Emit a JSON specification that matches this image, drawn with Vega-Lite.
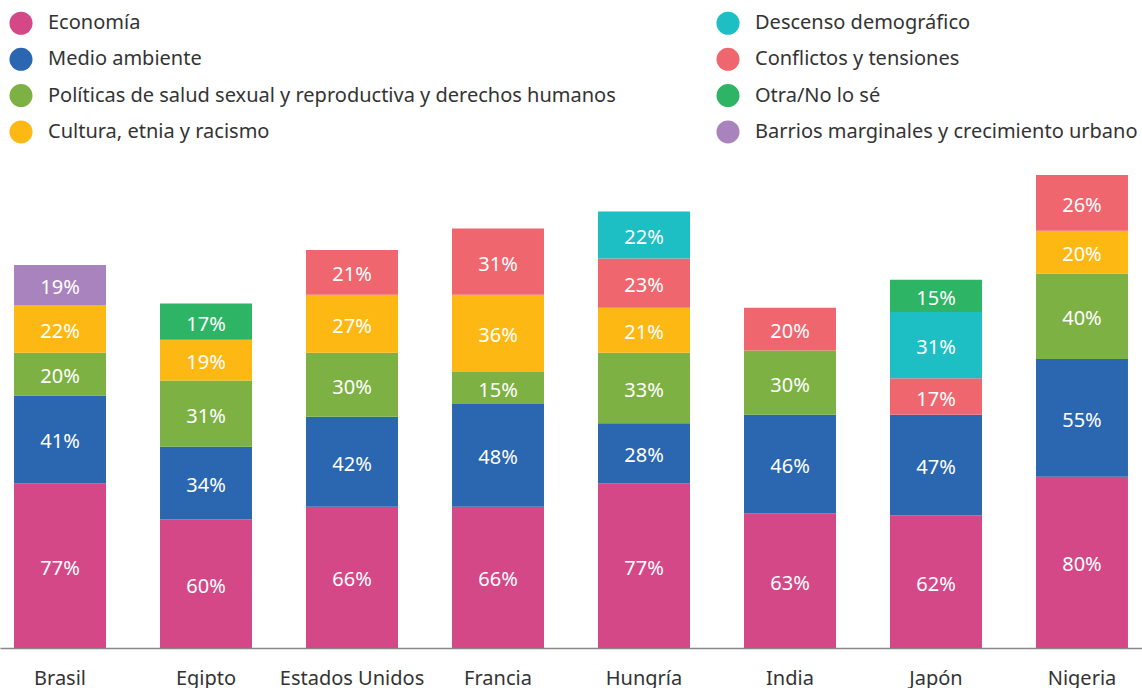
{
  "$schema": "https://vega.github.io/schema/vega-lite/v6.json",
  "width": 1142,
  "height": 473,
  "autosize": {"type": "none"},
  "padding": {"top": 175, "left": 0, "right": 0, "bottom": 40},
  "background": "white",
  "config": {
    "font": "Noto Sans",
    "view": {"stroke": null},
    "legend": {
      "orient": "none",
      "legendX": 9,
      "legendY": -164,
      "columns": 2,
      "symbolType": "circle",
      "symbolSize": 531,
      "symbolStrokeWidth": 0,
      "symbolOpacity": 1,
      "labelFontSize": 20,
      "labelFont": "Noto Sans",
      "labelColor": "#333333",
      "labelOffset": 15,
      "rowPadding": 12.3,
      "columnPadding": 100,
      "padding": 0,
      "labelLimit": 0
    }
  },
  "data": {
    "values": [
      {"country": "Brasil", "cat": "Economía", "value": 77},
      {"country": "Brasil", "cat": "Medio ambiente", "value": 41},
      {"country": "Brasil", "cat": "Políticas de salud sexual y reproductiva y derechos humanos", "value": 20},
      {"country": "Brasil", "cat": "Cultura, etnia y racismo", "value": 22},
      {"country": "Brasil", "cat": "Barrios marginales y crecimiento urbano", "value": 19},
      {"country": "Egipto", "cat": "Economía", "value": 60},
      {"country": "Egipto", "cat": "Medio ambiente", "value": 34},
      {"country": "Egipto", "cat": "Políticas de salud sexual y reproductiva y derechos humanos", "value": 31},
      {"country": "Egipto", "cat": "Cultura, etnia y racismo", "value": 19},
      {"country": "Egipto", "cat": "Otra/No lo sé", "value": 17},
      {"country": "Estados Unidos", "cat": "Economía", "value": 66},
      {"country": "Estados Unidos", "cat": "Medio ambiente", "value": 42},
      {"country": "Estados Unidos", "cat": "Políticas de salud sexual y reproductiva y derechos humanos", "value": 30},
      {"country": "Estados Unidos", "cat": "Cultura, etnia y racismo", "value": 27},
      {"country": "Estados Unidos", "cat": "Conflictos y tensiones", "value": 21},
      {"country": "Francia", "cat": "Economía", "value": 66},
      {"country": "Francia", "cat": "Medio ambiente", "value": 48},
      {"country": "Francia", "cat": "Políticas de salud sexual y reproductiva y derechos humanos", "value": 15},
      {"country": "Francia", "cat": "Cultura, etnia y racismo", "value": 36},
      {"country": "Francia", "cat": "Conflictos y tensiones", "value": 31},
      {"country": "Hungría", "cat": "Economía", "value": 77},
      {"country": "Hungría", "cat": "Medio ambiente", "value": 28},
      {"country": "Hungría", "cat": "Políticas de salud sexual y reproductiva y derechos humanos", "value": 33},
      {"country": "Hungría", "cat": "Cultura, etnia y racismo", "value": 21},
      {"country": "Hungría", "cat": "Conflictos y tensiones", "value": 23},
      {"country": "Hungría", "cat": "Descenso demográfico", "value": 22},
      {"country": "India", "cat": "Economía", "value": 63},
      {"country": "India", "cat": "Medio ambiente", "value": 46},
      {"country": "India", "cat": "Políticas de salud sexual y reproductiva y derechos humanos", "value": 30},
      {"country": "India", "cat": "Conflictos y tensiones", "value": 20},
      {"country": "Japón", "cat": "Economía", "value": 62},
      {"country": "Japón", "cat": "Medio ambiente", "value": 47},
      {"country": "Japón", "cat": "Conflictos y tensiones", "value": 17},
      {"country": "Japón", "cat": "Descenso demográfico", "value": 31},
      {"country": "Japón", "cat": "Otra/No lo sé", "value": 15},
      {"country": "Nigeria", "cat": "Economía", "value": 80},
      {"country": "Nigeria", "cat": "Medio ambiente", "value": 55},
      {"country": "Nigeria", "cat": "Políticas de salud sexual y reproductiva y derechos humanos", "value": 40},
      {"country": "Nigeria", "cat": "Cultura, etnia y racismo", "value": 20},
      {"country": "Nigeria", "cat": "Conflictos y tensiones", "value": 26}
    ]
  },
  "transform": [
    {"calculate": "indexof(['Economía','Medio ambiente','Políticas de salud sexual y reproductiva y derechos humanos','Cultura, etnia y racismo','Conflictos y tensiones','Descenso demográfico','Otra/No lo sé','Barrios marginales y crecimiento urbano'], datum.cat)", "as": "ord"},
    {"stack": "value", "groupby": ["country"], "sort": [{"field": "ord", "order": "ascending"}], "as": ["v0", "v1"]},
    {"calculate": "(datum.v0 + datum.v1) / 2", "as": "mid"},
    {"calculate": "datum.value + '%'", "as": "label"}
  ],
  "encoding": {
    "x": {
      "field": "country",
      "type": "nominal",
      "sort": null,
      "scale": {"paddingInner": 0.37, "paddingOuter": 0.096},
      "axis": {
        "title": null,
        "ticks": false,
        "domainColor": "#888888",
        "domainWidth": 1.5,
        "labelFontSize": 20,
        "labelColor": "#333333",
        "labelFont": "Noto Sans",
        "labelPadding": 20,
        "labelAngle": 0,
        "grid": false
      }
    }
  },
  "layer": [
    {
      "mark": {"type": "bar"},
      "encoding": {
        "y": {"field": "v0", "type": "quantitative", "scale": {"domain": [0, 221], "nice": false, "zero": true}, "axis": null},
        "y2": {"field": "v1"},
        "color": {
          "field": "cat",
          "type": "nominal",
          "title": null,
          "scale": {
            "domain": ["Economía", "Medio ambiente", "Políticas de salud sexual y reproductiva y derechos humanos", "Cultura, etnia y racismo", "Descenso demográfico", "Conflictos y tensiones", "Otra/No lo sé", "Barrios marginales y crecimiento urbano"],
            "range": ["#D44888", "#2B67B1", "#7DB143", "#FDB814", "#1DBEC4", "#F0666E", "#2DB464", "#A883BD"]
          }
        }
      }
    },
    {
      "mark": {"type": "text", "color": "white", "fontSize": 20, "font": "Noto Sans", "baseline": "middle", "align": "center", "dy": 3},
      "encoding": {
        "y": {"field": "mid", "type": "quantitative"},
        "text": {"field": "label", "type": "nominal"}
      }
    }
  ]
}
